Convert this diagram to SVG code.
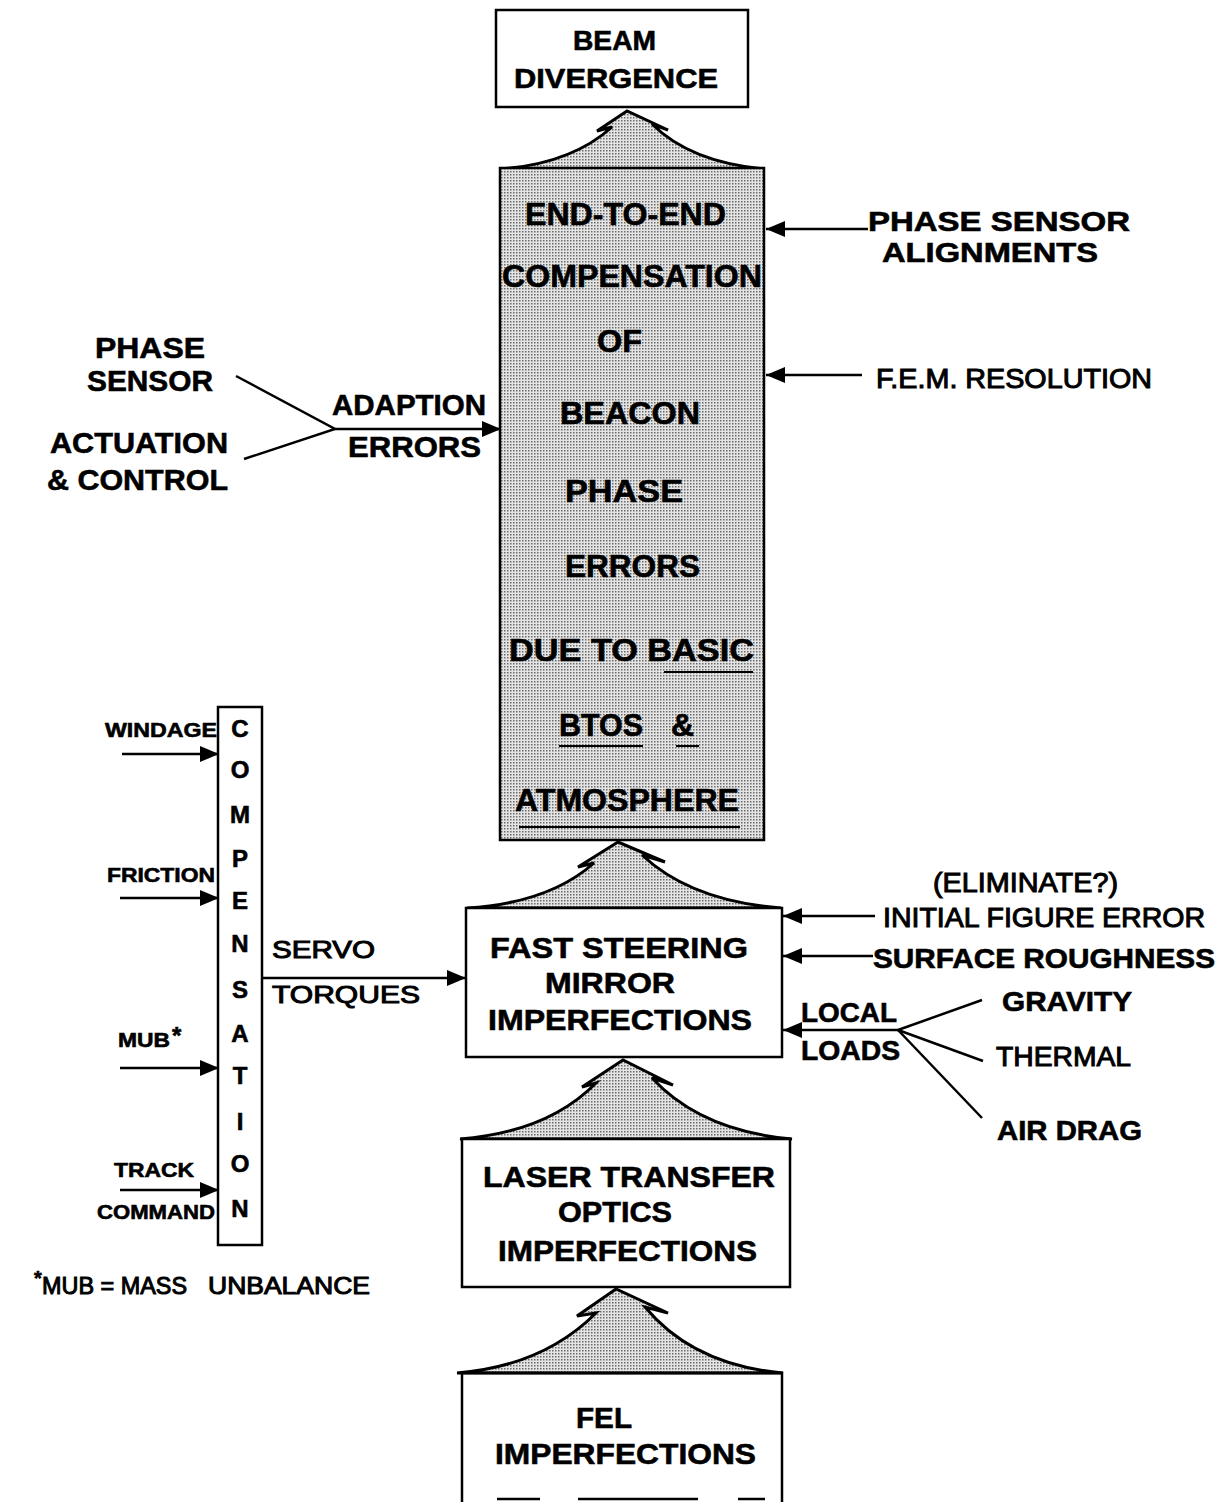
<svg xmlns="http://www.w3.org/2000/svg" width="1223" height="1502" viewBox="0 0 1223 1502">
<style>
text{font-family:"Liberation Sans",Arial,sans-serif;font-weight:bold;fill:#000;stroke:#000;stroke-width:0.6}
.t31{font-size:31px}
.t30{font-size:30px}
.t28{font-size:28px}
.t27{font-size:27px}
.t24{font-size:24px}
.t20{font-size:20px}
.lt{font-weight:normal;stroke-width:1}
.box{fill:#fff;stroke:#000;stroke-width:2.5}
.gbox{fill:url(#dots);stroke:#000;stroke-width:2.5}
.ln{fill:none;stroke:#000;stroke-width:2.5}
.arr{fill:none;stroke:#000;stroke-width:2.5;marker-end:url(#ah)}
.mtn{fill:url(#dots);stroke:#000;stroke-width:3;stroke-linejoin:miter}
.ul{stroke:#000;stroke-width:2}
</style>
<defs>
<pattern id="dots" width="3" height="3" patternUnits="userSpaceOnUse">
<rect width="3" height="3" fill="#e4e4e4"/>
<rect width="1.5" height="1.5" fill="#6a6a6a"/>
</pattern>
<marker id="ah" markerUnits="userSpaceOnUse" markerWidth="20" markerHeight="16" refX="19" refY="8" orient="auto">
<path d="M0,0 L19,8 L0,16 Z" fill="#000"/>
</marker>
</defs>

<g id="connectors">
<path class="mtn" d="M627,111 L597,131 L612,127 Q571,164 500,169 L764,169 Q690,162 652,124 L668,130 Z"/>
<path class="mtn" d="M618,842 L578,867 L594,863 Q549,903 467,908 L781,908 Q691,901 642,855 L665,862 Z"/>
<path class="mtn" d="M623,1060 L582,1087 L596,1083 Q548,1132 460,1139 L792,1139 Q701,1131 652,1078 L673,1085 Z"/>
<path class="mtn" d="M616,1289 L577,1316 L596,1313 Q543,1366 457,1373 L783,1373 Q693,1365 645,1307 L668,1313 Z"/>
<line class="arr" x1="868" y1="229" x2="766" y2="229"/>
<line class="arr" x1="862" y1="375" x2="766" y2="375"/>
<polyline class="ln" points="236,376 335,429 244,459"/>
<line class="arr" x1="335" y1="429" x2="501" y2="429"/>
<line class="arr" x1="122" y1="754" x2="219" y2="754"/>
<line class="arr" x1="120" y1="898" x2="219" y2="898"/>
<line class="arr" x1="120" y1="1068" x2="219" y2="1068"/>
<line class="arr" x1="120" y1="1190" x2="219" y2="1190"/>
<line class="arr" x1="262" y1="978" x2="466" y2="978"/>
<line class="arr" x1="875" y1="916" x2="783" y2="916"/>
<line class="arr" x1="873" y1="956" x2="783" y2="956"/>
<line class="arr" x1="898" y1="1030" x2="783" y2="1030"/>
<line class="ln" x1="898" y1="1030" x2="982" y2="1000"/>
<line class="ln" x1="898" y1="1030" x2="983" y2="1061"/>
<line class="ln" x1="898" y1="1030" x2="982" y2="1118"/>
</g>

<g id="node-beam">
<rect class="box" x="496" y="10" width="252" height="97"/>
<text class="t28" x="573" y="50" textLength="83" lengthAdjust="spacingAndGlyphs">BEAM</text>
<text class="t28" x="514" y="88" textLength="204" lengthAdjust="spacingAndGlyphs">DIVERGENCE</text>
</g>

<g id="node-e2e">
<rect class="gbox" x="500" y="168" width="264" height="672"/>
<text class="t31" x="525" y="225" textLength="201" lengthAdjust="spacingAndGlyphs">END-TO-END</text>
<text class="t31" x="502" y="287" textLength="260" lengthAdjust="spacingAndGlyphs">COMPENSATION</text>
<text class="t31" x="597" y="352" textLength="45" lengthAdjust="spacingAndGlyphs">OF</text>
<text class="t31" x="560" y="424" textLength="140" lengthAdjust="spacingAndGlyphs">BEACON</text>
<text class="t31" x="565" y="502" textLength="118" lengthAdjust="spacingAndGlyphs">PHASE</text>
<text class="t31" x="565" y="577" textLength="135" lengthAdjust="spacingAndGlyphs">ERRORS</text>
<text class="t31" x="509" y="661" textLength="245" lengthAdjust="spacingAndGlyphs">DUE TO  BASIC</text>
<line class="ul" x1="664" y1="672" x2="753" y2="672"/>
<text class="t31" x="559" y="736" textLength="84" lengthAdjust="spacingAndGlyphs">BTOS</text>
<text class="t31" x="671" y="736" textLength="23" lengthAdjust="spacingAndGlyphs">&amp;</text>
<line class="ul" x1="559" y1="746" x2="643" y2="746"/>
<line class="ul" x1="676" y1="746" x2="699" y2="746"/>
<text class="t31" x="515" y="811" textLength="224" lengthAdjust="spacingAndGlyphs">ATMOSPHERE</text>
<line class="ul" x1="519" y1="827" x2="740" y2="827"/>
</g>

<g id="node-phase-align">
<text class="t28" x="868" y="231" textLength="262" lengthAdjust="spacingAndGlyphs">PHASE  SENSOR</text>
<text class="t28" x="882" y="262" textLength="216" lengthAdjust="spacingAndGlyphs">ALIGNMENTS</text>
</g>
<g id="node-fem">
<text class="t27 lt" x="876" y="388" textLength="276" lengthAdjust="spacingAndGlyphs">F.E.M. RESOLUTION</text>
</g>
<g id="node-phase-sensor">
<text class="t30" x="95" y="358" textLength="110" lengthAdjust="spacingAndGlyphs">PHASE</text>
<text class="t30" x="87" y="391" textLength="126" lengthAdjust="spacingAndGlyphs">SENSOR</text>
</g>
<g id="node-actuation">
<text class="t30" x="50" y="453" textLength="178" lengthAdjust="spacingAndGlyphs">ACTUATION</text>
<text class="t30" x="47" y="490" textLength="181" lengthAdjust="spacingAndGlyphs">&amp; CONTROL</text>
</g>
<g id="label-adaption">
<text class="t30" x="332" y="415" textLength="154" lengthAdjust="spacingAndGlyphs">ADAPTION</text>
<text class="t30" x="348" y="457" textLength="133" lengthAdjust="spacingAndGlyphs">ERRORS</text>
</g>

<g id="node-compensation">
<rect class="box" x="218" y="707" width="44" height="538"/>
<g class="t24" text-anchor="middle">
<text x="240" y="737">C</text>
<text x="240" y="778">O</text>
<text x="240" y="823">M</text>
<text x="240" y="867">P</text>
<text x="240" y="909">E</text>
<text x="240" y="952">N</text>
<text x="240" y="998">S</text>
<text x="240" y="1042">A</text>
<text x="240" y="1084">T</text>
<text x="240" y="1130">I</text>
<text x="240" y="1172">O</text>
<text x="240" y="1217">N</text>
</g>
</g>
<g id="node-windage"><text class="t20" x="105" y="737" textLength="112" lengthAdjust="spacingAndGlyphs">WINDAGE</text></g>
<g id="node-friction"><text class="t20" x="107" y="882" textLength="108" lengthAdjust="spacingAndGlyphs">FRICTION</text></g>
<g id="node-mub"><text class="t20" x="118" y="1047" textLength="52" lengthAdjust="spacingAndGlyphs">MUB</text><text class="t24" x="172" y="1044">*</text></g>
<g id="node-track">
<text class="t20" x="114" y="1177" textLength="80" lengthAdjust="spacingAndGlyphs">TRACK</text>
<text class="t20" x="97" y="1219" textLength="118" lengthAdjust="spacingAndGlyphs">COMMAND</text>
</g>
<g id="label-servo">
<text class="t24 lt" x="272" y="958" textLength="103" lengthAdjust="spacingAndGlyphs">SERVO</text>
<text class="t24 lt" x="272" y="1003" textLength="148" lengthAdjust="spacingAndGlyphs">TORQUES</text>
</g>

<g id="node-fsm">
<rect class="box" x="466" y="908" width="316" height="149"/>
<text class="t30" x="490" y="958" textLength="258" lengthAdjust="spacingAndGlyphs">FAST STEERING</text>
<text class="t30" x="545" y="993" textLength="130" lengthAdjust="spacingAndGlyphs">MIRROR</text>
<text class="t30" x="488" y="1030" textLength="264" lengthAdjust="spacingAndGlyphs">IMPERFECTIONS</text>
</g>
<g id="node-initial">
<text class="t27 lt" x="933" y="892" textLength="185" lengthAdjust="spacingAndGlyphs">(ELIMINATE?)</text>
<text class="t27 lt" x="883" y="927" textLength="322" lengthAdjust="spacingAndGlyphs">INITIAL FIGURE ERROR</text>
</g>
<g id="node-surface"><text class="t27" x="873" y="968" textLength="342" lengthAdjust="spacingAndGlyphs">SURFACE ROUGHNESS</text></g>
<g id="label-local">
<text class="t27" x="801" y="1022" textLength="96" lengthAdjust="spacingAndGlyphs">LOCAL</text>
<text class="t27" x="801" y="1060" textLength="99" lengthAdjust="spacingAndGlyphs">LOADS</text>
</g>
<g id="node-gravity"><text class="t27" x="1002" y="1011" textLength="130" lengthAdjust="spacingAndGlyphs">GRAVITY</text></g>
<g id="node-thermal"><text class="t27 lt" x="996" y="1066" textLength="135" lengthAdjust="spacingAndGlyphs">THERMAL</text></g>
<g id="node-airdrag"><text class="t27" x="997" y="1140" textLength="145" lengthAdjust="spacingAndGlyphs">AIR DRAG</text></g>

<g id="node-lto">
<rect class="box" x="462" y="1139" width="328" height="148"/>
<text class="t30" x="483" y="1187" textLength="292" lengthAdjust="spacingAndGlyphs">LASER TRANSFER</text>
<text class="t30" x="558" y="1222" textLength="114" lengthAdjust="spacingAndGlyphs">OPTICS</text>
<text class="t30" x="498" y="1261" textLength="259" lengthAdjust="spacingAndGlyphs">IMPERFECTIONS</text>
</g>

<g id="node-fel">
<path class="ln" d="M462,1502 L462,1373 L782,1373 L782,1502"/>
<line class="ln" x1="497" y1="1499" x2="540" y2="1499"/>
<line class="ln" x1="578" y1="1499" x2="698" y2="1499"/>
<line class="ln" x1="738" y1="1499" x2="765" y2="1499"/>
<text class="t30" x="576" y="1428" textLength="56" lengthAdjust="spacingAndGlyphs">FEL</text>
<text class="t30" x="495" y="1464" textLength="261" lengthAdjust="spacingAndGlyphs">IMPERFECTIONS</text>
</g>

<g id="note">
<text class="t20" x="34" y="1285">*</text>
<text class="t24 lt" x="42" y="1294" textLength="145" lengthAdjust="spacingAndGlyphs">MUB = MASS</text>
<text class="t24 lt" x="208" y="1294" textLength="162" lengthAdjust="spacingAndGlyphs">UNBALANCE</text>
</g>
</svg>
